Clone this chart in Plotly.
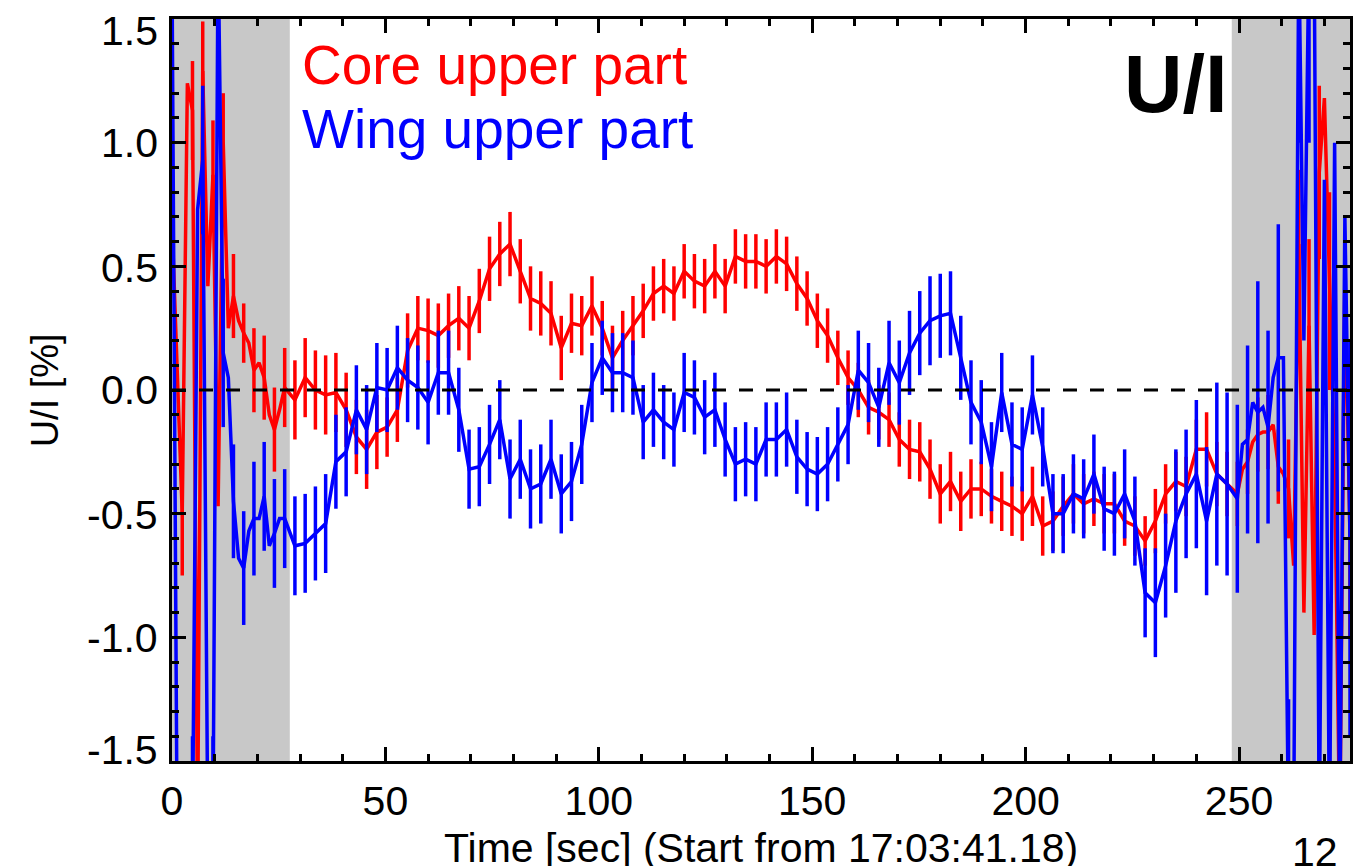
import plotly.graph_objects as go

# ---------------- data ----------------
# left grey interval (1.2 s sampling, error bars every 2.4 s)
t_left = [round(1.2 * k, 1) for k in range(23)]
core_left = [0.68, 0.10, -0.50, 1.24, 1.13, -1.80, 1.29, 0.42, 0.87, -0.47, 1.00, 0.25,
             0.38, 0.28, 0.23, 0.19, 0.08, 0.11, 0.05, -0.10, -0.16, -0.08, 0.01]
core_left_err = [0.19, 0, 0.25, 0, 0.20, 0, 0.20, 0, 0.22, 0, 0.20, 0,
                 0.17, 0, 0.12, 0, 0.17, 0, 0.17, 0, 0.17, 0, 0.16]
wing_left = [1.70, -1.80, -1.80, -1.80, -1.80, 0.73, 0.93, -1.80, -1.80, 1.80, 0.15, 0.05,
             -0.45, -0.68, -0.72, -0.57, -0.52, -0.52, -0.43, -0.63, -0.58, -0.52, -0.52]
wing_left_err = [0.30, 0, 0.30, 0, 0.40, 0, 0.30, 0, 0.40, 0, 0.30, 0,
                 0.23, 0, 0.23, 0, 0.23, 0, 0.22, 0, 0.22, 0, 0.20]

# middle interval (2.4 s sampling)
t_mid = [round(28.8 + 2.4 * k, 1) for k in range(92)]
core_mid = [-0.04, 0.05, 0.00, -0.02, -0.01, -0.08, -0.19, -0.24, -0.17, -0.15,
            -0.08, 0.16, 0.25, 0.24, 0.22, 0.26, 0.29, 0.25, 0.36, 0.49,
            0.55, 0.59, 0.48, 0.37, 0.35, 0.31, 0.17, 0.27, 0.26, 0.34,
            0.25, 0.13, 0.20, 0.26, 0.32, 0.39, 0.42, 0.39, 0.48, 0.44,
            0.42, 0.48, 0.42, 0.54, 0.52, 0.52, 0.50, 0.54, 0.51, 0.43,
            0.37, 0.28, 0.22, 0.13, 0.05, 0.00, -0.07, -0.09, -0.12, -0.20,
            -0.24, -0.25, -0.32, -0.42, -0.37, -0.45, -0.40, -0.40, -0.43, -0.45,
            -0.47, -0.50, -0.43, -0.55, -0.53, -0.47, -0.42, -0.46, -0.44, -0.46,
            -0.46, -0.53, -0.55, -0.61, -0.53, -0.42, -0.37, -0.39, -0.24, -0.24,
            -0.34, -0.38]
core_mid_err = [0.16, 0.16, 0.16, 0.16, 0.16, 0.15, 0.15, 0.16, 0.15, 0.12,
                0.13, 0.15, 0.13, 0.13, 0.13, 0.13, 0.13, 0.13, 0.13, 0.13,
                0.13, 0.13, 0.13, 0.13, 0.13, 0.13, 0.13, 0.12, 0.12, 0.12,
                0.11, 0.13, 0.12, 0.12, 0.11, 0.11, 0.11, 0.11, 0.11, 0.11,
                0.11, 0.11, 0.11, 0.11, 0.11, 0.11, 0.11, 0.11, 0.11, 0.11,
                0.11, 0.11, 0.11, 0.11, 0.11, 0.11, 0.11, 0.11, 0.11, 0.11,
                0.12, 0.12, 0.12, 0.12, 0.12, 0.12, 0.12, 0.11, 0.11, 0.12,
                0.12, 0.11, 0.12, 0.12, 0.12, 0.12, 0.12, 0.12, 0.11, 0.12,
                0.12, 0.10, 0.12, 0.10, 0.13, 0.12, 0.12, 0.12, 0.12, 0.15,
                0.13, 0.13]
wing_mid = [-0.63, -0.62, -0.58, -0.54, -0.29, -0.25, -0.08, -0.16, 0.01, 0.00,
            0.09, 0.04, 0.01, -0.05, 0.07, 0.07, -0.08, -0.32, -0.31, -0.22,
            -0.12, -0.36, -0.28, -0.40, -0.38, -0.28, -0.42, -0.37, -0.22, 0.03,
            0.13, 0.07, 0.07, 0.05, -0.13, -0.08, -0.13, -0.16, -0.01, -0.03,
            -0.11, -0.08, -0.20, -0.30, -0.28, -0.30, -0.20, -0.20, -0.16, -0.27,
            -0.32, -0.34, -0.30, -0.22, -0.14, 0.08, 0.03, -0.07, 0.11, 0.03,
            0.15, 0.23, 0.28, 0.30, 0.31, 0.13, -0.05, -0.13, -0.31, -0.01,
            -0.22, -0.24, -0.02, -0.23, -0.50, -0.50, -0.42, -0.44, -0.34, -0.48,
            -0.50, -0.42, -0.53, -0.82, -0.86, -0.71, -0.53, -0.42, -0.34, -0.53,
            -0.34, -0.38]
wing_mid_err = [0.20, 0.20, 0.19, 0.20, 0.19, 0.18, 0.18, 0.18, 0.18, 0.17,
                0.17, 0.17, 0.17, 0.17, 0.17, 0.17, 0.17, 0.16, 0.16, 0.16,
                0.16, 0.16, 0.16, 0.16, 0.16, 0.16, 0.16, 0.16, 0.16, 0.16,
                0.15, 0.16, 0.16, 0.15, 0.15, 0.15, 0.15, 0.15, 0.16, 0.15,
                0.15, 0.15, 0.15, 0.15, 0.15, 0.15, 0.15, 0.15, 0.15, 0.15,
                0.15, 0.15, 0.15, 0.15, 0.16, 0.16, 0.16, 0.16, 0.17, 0.17,
                0.17, 0.17, 0.18, 0.17, 0.17, 0.17, 0.17, 0.17, 0.18, 0.16,
                0.17, 0.17, 0.16, 0.16, 0.16, 0.16, 0.16, 0.16, 0.16, 0.17,
                0.17, 0.18, 0.18, 0.18, 0.22, 0.21, 0.29, 0.26, 0.30, 0.30,
                0.37, 0.37]

# right grey interval (1.2 s sampling)
t_right = [round(249.6 + 1.2 * k, 1) for k in range(23)]
core_right = [-0.42, -0.32, -0.29, -0.21, -0.18, -0.17, -0.17, -0.14, -0.31, -0.34, -0.40, -0.71,
              0.59, -0.90, 0.26, -0.99, 0.88, 1.18, 0.40, -0.30, -1.80, 0.47, -0.60]
core_right_err = [0.13, 0, 0.13, 0, 0.15, 0, 0.15, 0, 0.15, 0, 0.20, 0,
                  0.30, 0, 0.35, 0, 0.35, 0, 0.40, 0, 0.40, 0, 0.40]
wing_right = [-0.44, -0.22, -0.20, -0.05, -0.09, -0.07, -0.15, 0.05, 0.13, 0.13, -1.80, -1.80,
              1.80, 0.20, 1.80, 1.80, -1.80, 0.85, -1.80, 1.00, -1.80, 0.70, -0.60]
wing_right_err = [0.38, 0, 0.38, 0, 0.53, 0, 0.39, 0, 0.54, 0, 0.55, 0,
                  0.80, 0, 0.80, 0, 0.80, 0, 0.80, 0, 0.80, 0, 0.80]

time = t_left + t_mid + t_right
core = core_left + core_mid + core_right
core_err = core_left_err + core_mid_err + core_right_err
wing = wing_left + wing_mid + wing_right
wing_err = wing_left_err + wing_mid_err + wing_right_err

grey_spans = [(0, 27.6), (248.3, 276)]
x_range = [0, 276]
y_range = [-1.5, 1.5]
x_ticks = [0, 50, 100, 150, 200, 250]
y_ticks = [-1.5, -1.0, -0.5, 0.0, 0.5, 1.0, 1.5]
y_ticklabels = ["-1.5", "-1.0", "-0.5", "0.0", "0.5", "1.0", "1.5"]
# label centres (paper units): the end labels sit slightly inside the frame
y_label_pos = [0.0148, 0.1658, 0.3315, 0.5, 0.6644, 0.8329, 0.9838]

FONT = "Liberation Sans, Arial, Helvetica, sans-serif"

fig = go.Figure()

for a, b in grey_spans:
    fig.add_shape(type="rect", xref="x", yref="paper", x0=a, x1=b, y0=0, y1=1,
                  fillcolor="rgb(200,200,200)", line_width=0, layer="below")

fig.add_trace(go.Scatter(
    x=time, y=core, mode="lines", line=dict(color="#ff0000", width=3.5),
    error_y=dict(type="data", array=core_err, visible=True, color="#ff0000",
                 thickness=3.5, width=0),
    showlegend=False))
fig.add_trace(go.Scatter(
    x=time, y=wing, mode="lines", line=dict(color="#0000ff", width=3.5),
    error_y=dict(type="data", array=wing_err, visible=True, color="#0000ff",
                 thickness=3.5, width=0),
    showlegend=False))
fig.add_trace(go.Scatter(
    x=x_range, y=[0, 0], mode="lines",
    line=dict(color="black", width=3.2, dash="14px,13px"), showlegend=False))

axis_common = dict(showgrid=False, zeroline=False, showline=True, linecolor="black",
                   linewidth=3, mirror="allticks", ticks="inside", ticklen=14,
                   tickwidth=2.5, tickcolor="black",
                   tickfont=dict(family=FONT, size=41, color="black"))

fig.update_xaxes(range=x_range, tickvals=x_ticks, ticklabelstandoff=2,
                 minor=dict(dtick=10, ticks="inside", ticklen=7, tickwidth=2.5,
                            tickcolor="black"),
                 **axis_common)
fig.update_yaxes(range=y_range, tickvals=y_ticks, showticklabels=False,
                 minor=dict(dtick=0.1, ticks="inside", ticklen=7, tickwidth=2.5,
                            tickcolor="black"),
                 **axis_common)

for lab, pos in zip(y_ticklabels, y_label_pos):
    fig.add_annotation(xref="paper", yref="paper", x=-0.0102, y=pos, text=lab,
                       showarrow=False, xanchor="right", yanchor="middle",
                       font=dict(family=FONT, size=41, color="black"))

ann = [
    dict(text="Core upper part", x=0.1084, y=0.938, xanchor="left", yanchor="middle",
         font=dict(family=FONT, size=55, color="#ff0000")),
    dict(text="Wing upper part", x=0.1084, y=0.852, xanchor="left", yanchor="middle",
         font=dict(family=FONT, size=55, color="#0000ff")),
    dict(text="<b>U/I</b>", x=0.898, y=0.912, xanchor="right", yanchor="middle",
         font=dict(family=FONT, size=81, color="black")),
    dict(text="Time [sec] (Start from 17:03:41.18)", x=0.5004, y=-0.117,
         xanchor="center", yanchor="middle",
         font=dict(family=FONT, size=41, color="black")),
    dict(text="U/I [%]", x=-0.1075, y=0.5, textangle=-90, xanchor="center",
         yanchor="middle", font=dict(family=FONT, size=38, color="black")),
    dict(text="12", x=0.970, y=-0.1226, xanchor="center", yanchor="middle",
         font=dict(family=FONT, size=41, color="black")),
]
for a in ann:
    fig.add_annotation(xref="paper", yref="paper", showarrow=False, **a)

fig.update_layout(width=1356, height=866, autosize=False,
                  margin=dict(l=172, r=3, t=19, b=105),
                  paper_bgcolor="white", plot_bgcolor="white",
                  font=dict(family=FONT))

fig.write_html("out.html")
